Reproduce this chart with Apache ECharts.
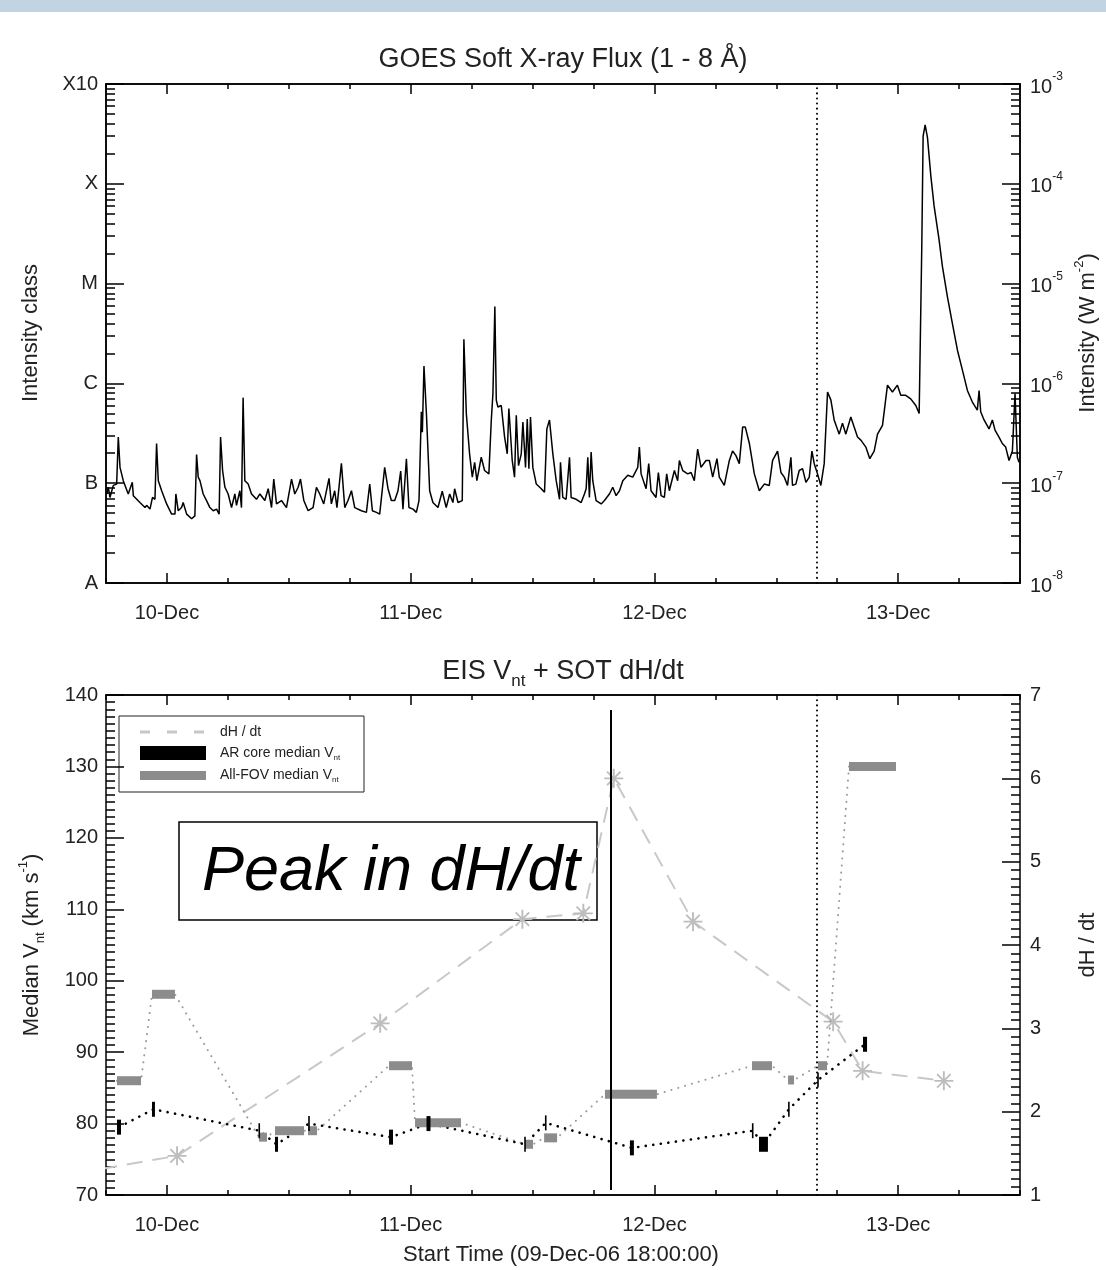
<!DOCTYPE html>
<html>
<head>
<meta charset="utf-8">
<script src="https://cdn.jsdelivr.net/npm/echarts@6/dist/echarts.min.js"></script>
<style>
  html, body { margin: 0; padding: 0; background: #fff; }
  #chart { width: 1106px; height: 1270px; }
</style>
</head>
<body>
<div id="chart"></div>
<script>
// ---- time axis: hours since 09-Dec-2006 00:00 UT ----
const timeStart = 18;      // 09-Dec-06 18:00
const timeEnd = 108;       // 13-Dec-06 12:00
const dayTicks = [24, 48, 72, 96];
const dayLabels = ['10-Dec', '11-Dec', '12-Dec', '13-Dec'];

// ---- GOES 1-8 Å flux [hour, W m^-2] ----
const goesFlux = [
  [18.07,7.8e-8],[18.23,9.1e-8],[18.39,7.2e-8],[18.72,9.5e-8],[19.05,9.8e-8],[19.21,2.9e-7],[19.38,1.44e-7],[19.70,1.06e-7],
  [20.19,7.8e-8],[20.59,1.02e-7],[20.69,7.5e-8],[21.34,6.4e-8],[21.84,5.7e-8],[22.00,6.0e-8],[22.33,5.5e-8],[22.58,7.2e-8],
  [22.82,6.9e-8],[22.98,2.5e-7],[23.15,1.06e-7],[23.48,8.4e-8],[23.97,6.2e-8],[24.46,4.9e-8],[24.79,4.9e-8],[24.88,7.8e-8],
  [25.11,5.3e-8],[25.44,5.7e-8],[25.60,6.4e-8],[25.94,4.9e-8],[26.43,4.4e-8],[26.75,4.7e-8],[26.92,1.94e-7],[27.08,1.15e-7],
  [27.25,1.06e-7],[27.57,7.8e-8],[27.90,6.7e-8],[28.23,5.7e-8],[28.56,5.3e-8],[28.89,5.5e-8],[29.14,4.9e-8],[29.28,2.9e-7],
  [29.48,1.34e-7],[29.71,9.1e-8],[30.03,7.8e-8],[30.36,5.7e-8],[30.69,7.8e-8],[30.85,6.0e-8],[31.18,8.4e-8],[31.34,5.7e-8],
  [31.50,7.2e-7],[31.67,1.06e-7],[32.00,9.8e-8],[32.33,7.8e-8],[32.82,6.9e-8],[33.15,7.8e-8],[33.64,6.7e-8],[33.97,8.8e-8],
  [34.30,5.7e-8],[34.52,1.1e-7],[34.79,6.2e-8],[35.28,6.7e-8],[35.77,5.7e-8],[36.27,1.1e-7],[36.59,7.8e-8],[36.92,9.1e-8],
  [37.15,1.1e-7],[37.48,6.7e-8],[37.90,5.3e-8],[38.39,5.7e-8],[38.72,9.1e-8],[39.05,7.8e-8],[39.44,6.2e-8],[39.96,1.12e-7],
  [40.19,6.2e-8],[40.52,8.4e-8],[40.74,5.7e-8],[41.18,1.58e-7],[41.51,5.7e-8],[41.83,6.7e-8],[42.17,8.4e-8],[42.49,5.7e-8],
  [43.15,5.3e-8],[43.64,5.1e-8],[43.97,9.8e-8],[44.23,5.3e-8],[44.63,5.1e-8],[44.95,4.9e-8],[45.44,1.44e-7],[45.77,8.8e-8],
  [46.10,6.7e-8],[46.43,6.7e-8],[46.75,8.4e-8],[47.02,1.32e-7],[47.24,5.5e-8],[47.58,1.76e-7],[47.83,5.7e-8],[48.23,5.5e-8],
  [48.56,5.1e-8],[48.82,6.7e-8],[49.05,5.2e-7],[49.15,3.25e-7],[49.31,1.49e-6],[49.55,5.0e-7],[49.87,8.4e-8],[50.19,6.4e-8],
  [50.69,5.7e-8],[51.11,8.3e-8],[51.50,5.7e-8],[51.84,7.8e-8],[52.16,6.4e-8],[52.33,8.8e-8],[52.66,6.4e-8],[53.08,6.7e-8],
  [53.24,2.77e-6],[53.48,5.0e-7],[53.80,1.97e-7],[54.07,1.15e-7],[54.30,1.62e-7],[54.52,1.06e-7],[54.95,1.82e-7],[55.28,1.34e-7],
  [55.70,1.24e-7],[55.94,4.3e-7],[56.10,7.9e-7],[56.29,5.9e-6],[56.43,6.8e-7],[56.59,5.8e-7],[56.92,6.0e-7],[57.25,2.9e-7],
  [57.51,1.97e-7],[57.67,5.6e-7],[58.00,1.69e-7],[58.23,1.15e-7],[58.40,4.8e-7],[58.62,1.5e-7],[58.89,1.97e-7],[59.05,4.1e-7],
  [59.31,1.44e-7],[59.48,4.4e-7],[59.64,1.4e-7],[59.80,4.6e-7],[60.03,1.44e-7],[60.37,9.8e-8],[60.86,8.8e-8],[61.18,8.1e-8],
  [61.41,3.5e-7],[61.67,4.3e-7],[62.00,1.97e-7],[62.33,1.06e-7],[62.66,6.9e-8],[62.75,1.62e-7],[62.98,7.2e-8],[63.31,6.9e-8],
  [63.64,1.82e-7],[63.80,7.2e-8],[64.30,6.9e-8],[64.79,6.4e-8],[65.11,7.8e-8],[65.28,8.8e-8],[65.44,1.82e-7],[65.60,7.2e-8],
  [65.77,2.05e-7],[65.93,1.06e-7],[66.26,6.7e-8],[66.76,6.2e-8],[67.08,6.7e-8],[67.57,7.8e-8],[67.90,9.1e-8],[68.23,7.5e-8],
  [68.56,8.4e-8],[68.89,1.06e-7],[69.38,1.2e-7],[69.87,1.15e-7],[70.36,1.44e-7],[70.52,2.3e-7],[70.69,1.24e-7],[71.18,8.8e-8],
  [71.44,1.57e-7],[71.67,8.4e-8],[72.16,7.2e-8],[72.39,1.28e-7],[72.66,7.5e-8],[72.98,7.2e-8],[73.21,1.24e-7],[73.47,8.4e-8],
  [73.97,1.34e-7],[74.29,1.06e-7],[74.46,1.69e-7],[74.79,1.34e-7],[75.28,1.24e-7],[75.61,1.28e-7],[75.93,1.06e-7],[76.26,2.2e-7],
  [76.59,1.44e-7],[77.08,1.69e-7],[77.41,1.69e-7],[77.74,1.15e-7],[78.16,1.76e-7],[78.39,1.15e-7],[78.88,9.5e-8],[79.38,1.69e-7],
  [79.70,2.1e-7],[80.03,1.89e-7],[80.36,1.57e-7],[80.69,3.65e-7],[80.95,3.65e-7],[81.35,2.5e-7],[81.51,2.6e-7],[81.84,1.24e-7],
  [82.33,8.4e-8],[82.82,9.8e-8],[83.31,9.5e-8],[83.64,1.69e-7],[84.13,2.1e-7],[84.46,1.28e-7],[84.79,1.15e-7],[85.11,9.5e-8],
  [85.44,1.82e-7],[85.60,9.5e-8],[85.93,9.8e-8],[86.26,1.34e-7],[86.59,1.4e-7],[86.92,1.02e-7],[87.25,1.15e-7],[87.51,2.1e-7],
  [87.74,1.57e-7],[88.06,1.24e-7],[88.39,9.5e-8],[88.72,1.57e-7],[89.05,8.2e-7],[89.38,6.8e-7],[89.70,4.3e-7],[90.20,3.1e-7],
  [90.52,4.0e-7],[90.85,3.1e-7],[91.34,4.6e-7],[91.67,3.65e-7],[92.00,2.9e-7],[92.33,2.7e-7],[92.82,2.3e-7],[93.21,1.76e-7],
  [93.64,2.1e-7],[93.97,3.1e-7],[94.46,3.8e-7],[94.95,9.6e-7],[95.44,8.2e-7],[95.93,9.6e-7],[96.26,7.6e-7],[96.75,7.6e-7],
  [97.24,7.0e-7],[97.74,6.0e-7],[98.07,5.0e-7],[98.23,4.8e-7],[98.33,2.4e-5],[98.46,3.0e-4],[98.66,3.9e-4],[98.89,2.9e-4],
  [99.22,1.2e-4],[99.54,6.0e-5],[100.03,2.76e-5],[100.36,1.49e-5],[100.85,7.4e-6],[101.34,4.0e-6],[101.84,2.15e-6],[102.33,1.36e-6],
  [102.82,8.5e-7],[103.31,6.5e-7],[103.80,5.4e-7],[103.97,8.5e-7],[104.13,5.2e-7],[104.46,4.3e-7],[104.95,3.5e-7],[105.28,4.3e-7],
  [105.54,3.4e-7],[105.93,2.9e-7],[106.26,2.5e-7],[106.59,2.3e-7],[106.92,1.69e-7],[107.25,2.1e-7],[107.51,7.9e-7],[107.74,1.82e-7],
  [107.90,1.62e-7]
];

// ---- flux classes and decades ----
const fluxDecades = [1e-8, 1e-7, 1e-6, 1e-5, 1e-4, 1e-3];
const fluxExponents = [-8, -7, -6, -5, -4, -3];
const classLabels = ['A', 'B', 'C', 'M', 'X', 'X10'];

// ---- reference times ----
const eisEventHour = 88.0;    // dotted marker, both panels
const dhdtPeakHour = 67.7;    // solid marker, lower panel
const dhdtPeakSpan = [70.7, 137.9];  // vertical extent of the solid marker (km/s)

// ---- SOT dH/dt ----
const dhdtHours  = [15.0, 25.0, 45.0, 59.0, 65.0, 68.0, 75.8, 89.6, 92.5, 100.5];
const dhdtValues = [1.26, 1.47, 3.06, 4.31, 4.38, 6.00, 4.28, 3.08, 2.49, 2.37];

// ---- EIS All-FOV median Vnt (km/s) over each raster ----
const fovStart = [19.08, 22.53, 33.06, 34.64, 37.89, 45.87, 48.43, 59.26, 61.14, 67.13, 81.61, 85.16, 88.11, 91.16];
const fovEnd   = [21.45, 24.79, 33.85, 37.50, 38.78, 48.13, 52.96, 60.05, 62.42, 72.25, 83.58, 85.75, 89.00, 95.79];
const fovValue = [86.0, 98.1, 78.1, 79.0, 79.0, 88.1, 80.1, 77.1, 78.0, 84.1, 88.1, 86.1, 88.1, 130.0];

// ---- EIS AR core median Vnt (km/s) ----
const coreStart = [19.08, 22.53, 33.09, 34.64, 37.99, 45.87, 49.56, 59.26, 61.30, 69.59, 81.68, 82.30, 85.24, 88.11, 92.54];
const coreEnd   = [19.48, 22.82, 33.09, 34.94, 37.99, 46.26, 49.95, 59.26, 61.30, 69.98, 81.68, 83.18, 85.24, 88.11, 92.94];
const coreValue = [79.5, 82.0, 79.0, 77.1, 80.0, 78.1, 80.0, 77.1, 80.1, 76.6, 79.0, 77.1, 82.0, 86.1, 91.1];

// ---- styling ----
const FONT = '"Liberation Sans", Arial, Helvetica, sans-serif';
const INK = '#000';
const TEXT = '#222';
const GRID_TOP = { left: 106, top: 84, width: 914, height: 499 };
const GRID_BOT = { left: 106, top: 695, width: 914, height: 500 };

// minor tick positions of the log axes (2..9 within each decade)
const minorFlux = [];
fluxExponents.slice(0, -1).forEach(e => {
  for (let k = 2; k <= 9; k++) minorFlux.push(k * Math.pow(10, e));
});

const asterisk = 'path://M0 9L20 9L20 11L0 11Z M9 0L11 0L11 20L9 20Z M2.2 3.6L3.6 2.2L17.8 16.4L16.4 17.8Z M16.4 2.2L17.8 3.6L3.6 17.8L2.2 16.4Z';

const lineW = 1.5;
const tickStyle = { color: INK, width: lineW };

function timeAxes(gridIndex) {
  const base = {
    type: 'value', gridIndex, min: timeStart, max: timeEnd,
    splitLine: { show: false },
    axisLine: { show: true, onZero: false, lineStyle: { color: INK, width: lineW } }
  };
  return [
    Object.assign({}, base, { position: 'bottom', interval: 6,
      axisTick: { inside: true, length: 5, lineStyle: tickStyle }, axisLabel: { show: false } }),
    Object.assign({}, base, { position: 'bottom',
      axisTick: { inside: true, length: 10, customValues: dayTicks, lineStyle: tickStyle },
      axisLabel: { show: true, customValues: dayTicks, margin: 20, color: TEXT, fontFamily: FONT, fontSize: 20,
        formatter: v => dayLabels[dayTicks.indexOf(Math.round(v))] || '' } }),
    Object.assign({}, base, { position: 'top', interval: 6,
      axisTick: { inside: true, length: 5, lineStyle: tickStyle }, axisLabel: { show: false } }),
    Object.assign({}, base, { position: 'top',
      axisTick: { inside: true, length: 10, customValues: dayTicks, lineStyle: tickStyle }, axisLabel: { show: false } })
  ];
}

function expOf(v) { return Math.round(Math.log10(v)); }

function logAxis(position, major) {
  const ax = {
    type: 'log', logBase: 10, gridIndex: 0, position, min: 1e-8, max: 1e-3,
    splitLine: { show: false },
    axisLine: { show: true, onZero: false, lineStyle: { color: INK, width: lineW } },
    axisTick: { inside: true, length: major ? 18 : 9, customValues: major ? fluxDecades : minorFlux, lineStyle: tickStyle },
    axisLabel: { show: false }
  };
  if (major && position === 'left') {
    ax.axisLabel = { show: true, customValues: fluxDecades, margin: 8, color: TEXT, fontFamily: FONT, fontSize: 20,
      formatter: v => classLabels[fluxExponents.indexOf(expOf(v))] };
  }
  if (major && position === 'right') {
    ax.axisLabel = { show: true, customValues: fluxDecades, margin: 10, color: TEXT, fontFamily: FONT,
      formatter: v => '{b|10}{s|' + expOf(v) + '}',
      rich: {
        b: { fontSize: 20, fontFamily: FONT, color: TEXT, lineHeight: 26, verticalAlign: 'bottom' },
        s: { fontSize: 12, fontFamily: FONT, color: TEXT, lineHeight: 26, verticalAlign: 'top' }
      } };
  }
  return ax;
}

const xAxes = timeAxes(0).concat(timeAxes(1));
const yAxes = [
  logAxis('left', true), logAxis('left', false), logAxis('right', true), logAxis('right', false),
  {
    type: 'value', gridIndex: 1, position: 'left', min: 70, max: 140, interval: 10,
    splitLine: { show: false },
    axisLine: { show: true, onZero: false, lineStyle: { color: INK, width: lineW } },
    axisTick: { inside: true, length: 18, lineStyle: tickStyle },
    minorTick: { show: true, splitNumber: 10, length: 9, lineStyle: tickStyle },
    axisLabel: { margin: 8, color: TEXT, fontFamily: FONT, fontSize: 20 }
  },
  {
    type: 'value', gridIndex: 1, position: 'right', min: 1, max: 7, interval: 1,
    splitLine: { show: false },
    axisLine: { show: true, onZero: false, lineStyle: { color: INK, width: lineW } },
    axisTick: { inside: true, length: 18, lineStyle: tickStyle },
    minorTick: { show: true, splitNumber: 10, length: 9, lineStyle: tickStyle },
    axisLabel: { margin: 10, color: TEXT, fontFamily: FONT, fontSize: 20 }
  }
];

// bar-style marks: [start, end, value]
const fovBars = fovStart.map((t, i) => [t, fovEnd[i], fovValue[i]]);
const coreBars = coreStart.map((t, i) => [t, coreEnd[i], coreValue[i]]);
// dotted connectors
const fovPath = [];
fovStart.forEach((t, i) => { fovPath.push([t, fovValue[i]]); fovPath.push([fovEnd[i], fovValue[i]]); });
const corePath = coreStart.map((t, i) => [(t + coreEnd[i]) / 2, coreValue[i]]);

function barRenderer(height, minWidth, fill) {
  return function (params, api) {
    const p0 = api.coord([api.value(0), api.value(2)]);
    const p1 = api.coord([api.value(1), api.value(2)]);
    let x = p0[0], w = p1[0] - p0[0];
    if (w < minWidth) { x = (p0[0] + p1[0]) / 2 - minWidth / 2; w = minWidth; }
    return { type: 'rect', shape: { x, y: p0[1] - height / 2, width: w, height }, style: { fill } };
  };
}

const series = [
  {
    name: 'GOES', type: 'line', xAxisIndex: 0, yAxisIndex: 0, data: goesFlux,
    showSymbol: false, symbol: 'none', lineStyle: { color: INK, width: 1.5 }, z: 3,
    markLine: {
      silent: true, symbol: ['none', 'none'], label: { show: false },
      lineStyle: { color: INK, width: 2, type: [0.1, 5], cap: 'round' },
      data: [{ xAxis: eisEventHour }]
    }
  },
  {
    name: 'All-FOV path', type: 'line', xAxisIndex: 4, yAxisIndex: 4, data: fovPath,
    symbol: 'none', lineStyle: { color: '#9a9a9a', width: 2, type: [0.1, 7], cap: 'round' }, z: 2,
    markLine: {
      silent: true, symbol: ['none', 'none'], label: { show: false },
      data: [
        { xAxis: eisEventHour, lineStyle: { color: INK, width: 2, type: [0.1, 5], cap: 'round' } },
        [
          { coord: [dhdtPeakHour, dhdtPeakSpan[0]], lineStyle: { color: INK, width: 2, type: 'solid' } },
          { coord: [dhdtPeakHour, dhdtPeakSpan[1]] }
        ]
      ]
    }
  },
  {
    name: 'AR core path', type: 'line', xAxisIndex: 4, yAxisIndex: 4, data: corePath,
    symbol: 'none', lineStyle: { color: INK, width: 2.6, type: [0.1, 7.5], cap: 'round' }, z: 3
  },
  {
    name: 'dH / dt', type: 'line', xAxisIndex: 4, yAxisIndex: 5,
    data: dhdtHours.map((t, i) => [t, dhdtValues[i]]),
    symbol: asterisk, symbolSize: 19, showAllSymbol: true,
    itemStyle: { color: '#bdbdbd' },
    lineStyle: { color: '#c8c8c8', width: 2, type: [16, 10] }, z: 1
  },
  {
    name: 'All-FOV median Vnt', type: 'custom', xAxisIndex: 4, yAxisIndex: 4,
    data: fovBars, encode: { x: [0, 1], y: 2 }, renderItem: barRenderer(9, 3, '#8c8c8c'), z: 4
  },
  {
    name: 'AR core median Vnt', type: 'custom', xAxisIndex: 4, yAxisIndex: 4,
    data: coreBars, encode: { x: [0, 1], y: 2 }, renderItem: barRenderer(15, 1.6, '#000'), z: 5
  }
];

const supRich = {
  t: { fontSize: 22, fontFamily: FONT, fill: TEXT, lineHeight: 30, verticalAlign: 'middle' },
  up: { fontSize: 13, fontFamily: FONT, fill: TEXT, lineHeight: 30, verticalAlign: 'top' },
  dn: { fontSize: 13, fontFamily: FONT, fill: TEXT, lineHeight: 30, verticalAlign: 'bottom' }
};

function plainText(text, x, y, size, extra) {
  return Object.assign({
    type: 'text', x, y,
    style: { text, fill: TEXT, font: size + 'px ' + FONT, align: 'center', verticalAlign: 'middle' }
  }, extra || {});
}

const legendRich = {
  a: { fontSize: 14, fontFamily: FONT, fill: TEXT, lineHeight: 18, verticalAlign: 'middle' },
  s: { fontSize: 8, fontFamily: FONT, fill: TEXT, lineHeight: 18, verticalAlign: 'bottom' }
};

const graphic = [
  { type: 'rect', shape: { x: 0, y: 0, width: 1106, height: 12 }, style: { fill: '#c2d4e2' }, silent: true },
  // panel titles
  plainText('GOES Soft X-ray Flux (1 - 8 Å)', 563, 60, 27),
  { type: 'text', x: 563, y: 672, style: {
      text: '{t|EIS V}{dn|nt}{t| + SOT dH/dt}', align: 'center', verticalAlign: 'middle',
      rich: {
        t: { fontSize: 27, fontFamily: FONT, fill: TEXT, lineHeight: 36, verticalAlign: 'middle' },
        dn: { fontSize: 17, fontFamily: FONT, fill: TEXT, lineHeight: 36, verticalAlign: 'bottom' }
      } } },
  // axis names
  plainText('Intensity class', 31, 333, 22, { rotation: Math.PI / 2 }),
  { type: 'text', x: 1088, y: 333, rotation: Math.PI / 2,
    style: { text: '{t|Intensity (W m}{up|-2}{t|)}', align: 'center', verticalAlign: 'middle', rich: supRich } },
  { type: 'text', x: 32, y: 945, rotation: Math.PI / 2,
    style: { text: '{t|Median V}{dn|nt}{t| (km s}{up|-1}{t|)}', align: 'center', verticalAlign: 'middle', rich: supRich } },
  plainText('dH / dt', 1088, 945, 22, { rotation: Math.PI / 2 }),
  plainText('Start Time (09-Dec-06 18:00:00)', 561, 1255, 22),
  // legend
  { type: 'group', children: [
    { type: 'rect', shape: { x: 119, y: 716, width: 245, height: 76 }, style: { fill: '#fff', stroke: '#222', lineWidth: 1 } },
    { type: 'line', shape: { x1: 140, y1: 732, x2: 206, y2: 732 }, style: { stroke: '#c8c8c8', lineWidth: 3, lineDash: [10, 17] } },
    { type: 'rect', shape: { x: 140, y: 746, width: 66, height: 14 }, style: { fill: '#000' } },
    { type: 'rect', shape: { x: 140, y: 771, width: 66, height: 9 }, style: { fill: '#8c8c8c' } },
    { type: 'text', x: 220, y: 732, style: { text: 'dH / dt', fill: TEXT, font: '14px ' + FONT, verticalAlign: 'middle' } },
    { type: 'text', x: 220, y: 753, style: { text: '{a|AR core median V}{s|nt}', verticalAlign: 'middle', rich: legendRich } },
    { type: 'text', x: 220, y: 775, style: { text: '{a|All-FOV median V}{s|nt}', verticalAlign: 'middle', rich: legendRich } }
  ] },
  // annotation
  { type: 'group', children: [
    { type: 'rect', shape: { x: 179, y: 822, width: 418, height: 98 }, style: { fill: '#fff', stroke: '#000', lineWidth: 1.5 } },
    { type: 'text', x: 391, y: 872, style: { text: 'Peak in dH/dt', fill: '#000', font: 'italic 63px ' + FONT, align: 'center', verticalAlign: 'middle' } }
  ] }
];

const chart = echarts.init(document.getElementById('chart'), null, { renderer: 'canvas' });
chart.setOption({
  animation: false,
  backgroundColor: '#fff',
  textStyle: { fontFamily: FONT },
  grid: [
    Object.assign({ containLabel: false }, GRID_TOP),
    Object.assign({ containLabel: false }, GRID_BOT)
  ],
  xAxis: xAxes,
  yAxis: yAxes,
  series,
  graphic
});
</script>
</body>
</html>
